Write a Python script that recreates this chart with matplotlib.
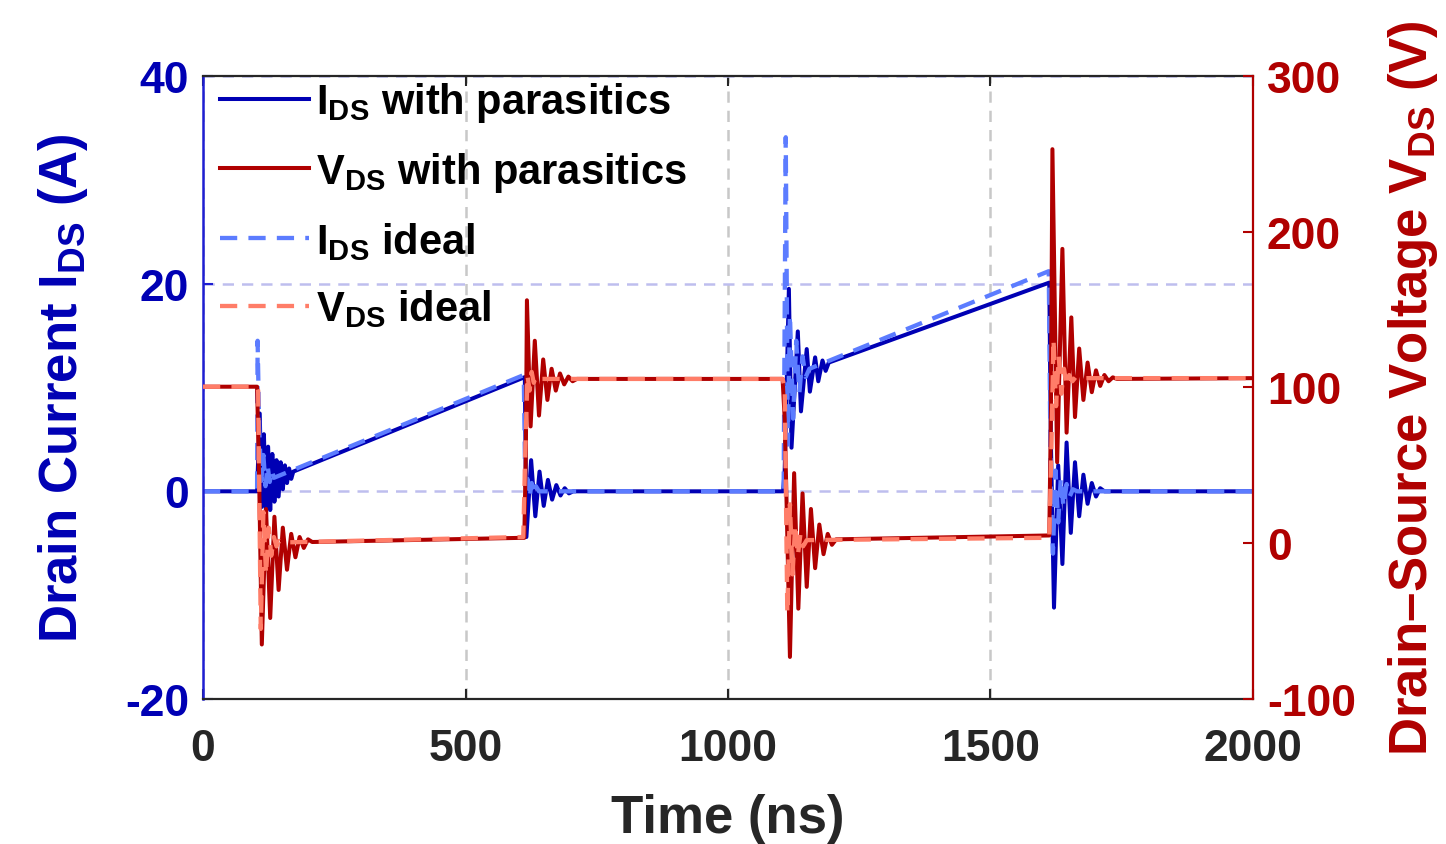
"""
Drain current and drain-source voltage of a switching transistor,
with and without parasitics (double-pulse style waveform).
Output: out.png
"""
import matplotlib

matplotlib.use("Agg")
import matplotlib.pyplot as plt

plt.rcParams["font.family"] = ["Liberation Sans", "DejaVu Sans"]
plt.rcParams["font.weight"] = "bold"
plt.rcParams["axes.labelweight"] = "bold"
plt.rcParams["axes.unicode_minus"] = False
plt.rcParams["mathtext.fontset"] = "custom"
plt.rcParams["mathtext.rm"] = "Liberation Sans:bold"
plt.rcParams["mathtext.it"] = "Liberation Sans:bold"
plt.rcParams["mathtext.bf"] = "Liberation Sans:bold"

# ---- data (time in ns) ----
t_i_par = [0, 103, 108, 112, 116, 120, 124, 128, 132, 136, 140, 144, 148, 152, 156,
           160, 164, 168, 172, 613, 616, 625, 633, 641, 649, 657, 665, 673, 681,
           689, 697, 705, 1105, 1108, 1116, 1121, 1133, 1139, 1150, 1156, 1166,
           1172, 1180, 1186, 1192, 1612, 1615, 1621, 1629, 1637, 1645, 1653, 1661,
           1669, 1677, 1685, 1693, 1701, 1709, 1717, 2000]
i_par = [0, 0, 7.5, -1.5, 5.5, -2.2, 4.3, -1.8, 3.6, -1.0, 3.0, -0.5, 2.8, 0.2, 2.5,
         0.8, 2.2, 1.2, 1.9, 11.0, -4.4, 3.0, -2.4, 1.9, -1.4, 1.1, -0.8, 0.6, -0.4,
         0.3, -0.2, 0, 0, 2.0, 19.5, 4.2, 15.4, 7.7, 13.7, 9.6, 12.9,
         10.6, 12.6, 11.6, 12.4, 20.1, 5.0, -11.2, 2.5, -7.0, 4.7, -4.0, 2.8,
         -2.4, 1.6, -1.2, 0.8, -0.5, 0.3, 0, 0]

t_v_par = [0, 103, 107, 112, 120, 128, 136, 144, 152, 160, 168, 176, 184, 192, 200,
           208, 612, 615, 617, 624, 632, 640, 648, 656, 664, 672, 680, 688, 696,
           704, 712, 1104, 1108, 1112, 1118, 1126, 1134, 1142, 1150, 1158, 1166,
           1174, 1182, 1190, 1198, 1206, 1612, 1615, 1618, 1627, 1637, 1645, 1654,
           1661, 1669, 1677, 1685, 1693, 1701, 1709, 1717, 1725, 1733, 1741, 2000]
v_par = [100.5, 100.5, 40, -65, 22, -48, 17, -30, 10, -17, 6, -9, 4, -3, 2.5,
         0.8, 3.5, 60, 156, 75, 130, 82, 118, 92, 112, 98, 109, 102, 107,
         104, 105.5, 105.5, 80, 20, -73, 45, -42, 32, -28, 22, -16,
         12, -7, 6, -1, 2.5, 5.0, 80, 253, 52, 189, 71, 145,
         81, 125, 92, 116, 97, 111, 101, 108, 104, 106.5, 105.5, 106]

t_i_ideal = [0, 103, 104, 107, 111, 115, 119, 123, 127, 131, 135, 611, 614, 618, 622,
             626, 630, 634, 640, 1106, 1110, 1114, 1118, 1124, 1130, 1136, 1142,
             1148, 1155, 1611, 1615, 1619, 1624, 1629, 1634, 1639, 1645, 1651, 1657,
             1665, 2000]
i_ideal = [0, 0, 14.5, 6.0, 1.0, 3.5, 0.5, 2.5, 0.9, 2.0, 1.3, 11.2, 0, 1.2, -0.6,
           0.8, -0.3, 0.5, 0, 0, 34.1, 4.5, 17.0, 7.0, 14.5, 9.5, 13.0,
           11.0, 11.8, 21.2, 0, -6.0, 2.0, -3.0, 1.3, -1.5, 0.7, -0.5, 0.2,
           0, 0]

t_v_ideal = [0, 103, 105, 110, 115, 120, 125, 130, 135, 140, 145, 150, 610, 614, 618,
             622, 626, 630, 634, 640, 1104, 1108, 1113, 1118, 1123, 1128, 1133, 1138,
             1143, 1150, 1612, 1616, 1620, 1625, 1630, 1635, 1640, 1645, 1650, 1656,
             1662, 1670, 2000]
v_ideal = [100.5, 100.5, 98, -55, 20, -20, 10, -8, 4, -2, 1.5, 0.5, 4.0, 60, 108,
           98, 110, 103, 107, 105.5, 105.5, 100, -45, 25, -20, 12, -8, 6,
           -2, 2, 3.5, 60, 131, 88, 120, 96, 112, 101, 108, 104,
           106.5, 106, 106]

x_ticks = [0, 500, 1000, 1500, 2000]
i_ticks = [-20, 0, 20, 40]
v_ticks = [-100, 0, 100, 200, 300]

BLUE = "#0000B4"
SPINE_BLUE = "#1E1ED2"
RED = "#B00000"
LBLUE = "#5C7CFF"
SALMON = "#FF7D68"
DARK = "#262626"

fig = plt.figure(figsize=(14.46, 8.45), dpi=100)
ax = fig.add_axes([0.1404, 0.1716, 0.7261, 0.7373])
ax2 = ax.twinx()

dash = (4.0, 2.6)
l1, = ax.plot(t_i_par, i_par, color=BLUE, lw=2.9, label=r"I$_{\mathrm{DS}}$ with parasitics")
l3, = ax.plot(t_i_ideal, i_ideal, color=LBLUE, lw=3.1, dashes=dash, label=r"I$_{\mathrm{DS}}$ ideal")
l2, = ax2.plot(t_v_par, v_par, color=RED, lw=2.9, label=r"V$_{\mathrm{DS}}$ with parasitics")
l4, = ax2.plot(t_v_ideal, v_ideal, color=SALMON, lw=3.1, dashes=dash, label=r"V$_{\mathrm{DS}}$ ideal")

ax.set_xlim(0, 2000)
ax.set_ylim(-20, 40)
ax2.set_ylim(-100, 300)
ax.set_xticks(x_ticks)
ax.set_yticks(i_ticks)
ax2.set_yticks(v_ticks)

# grid: grey verticals from x axis, pale blue horizontals from left axis
ax.grid(axis="x", color="#c8c8c8", linestyle=(0, (4.5, 3.2)), lw=1.8)
ax.grid(axis="y", color="#bebeee", linestyle=(0, (4.5, 3.2)), lw=1.8)
ax.set_axisbelow(True)

for s in ("top", "bottom"):
    ax.spines[s].set_color(DARK)
    ax.spines[s].set_linewidth(1.6)
ax.spines["left"].set_color(SPINE_BLUE)
ax.spines["left"].set_linewidth(1.8)
ax.spines["right"].set_visible(False)
ax2.spines["left"].set_visible(False)
ax2.spines["top"].set_visible(False)
ax2.spines["bottom"].set_visible(False)
ax2.spines["right"].set_color(RED)
ax2.spines["right"].set_linewidth(1.6)

ax.tick_params(axis="x", direction="in", length=7, width=1.5, colors=DARK,
               labelsize=32, pad=21, top=True)
ax.tick_params(axis="y", direction="in", length=7, width=1.5, color=SPINE_BLUE,
               labelcolor=BLUE, labelsize=32, pad=10)
ax2.tick_params(axis="y", direction="in", length=7, width=1.5, colors=RED,
                labelsize=32, pad=10)

ax.set_xlabel("Time (ns)", fontsize=38, color=DARK, labelpad=17)
ax.set_ylabel(r"Drain Current I$_{\mathrm{DS}}$ (A)", fontsize=38, color=BLUE, labelpad=25)
ax2.set_ylabel("Drain\u2013Source Voltage V$_{\\mathrm{DS}}$ (V)", fontsize=38,
               color=RED, labelpad=22)

leg = ax2.legend(handles=[l1, l2, l3, l4], loc="upper left",
                 bbox_to_anchor=(0.012, 1.0), frameon=False, fontsize=30,
                 handlelength=2.15, handletextpad=0.15, labelspacing=0.62,
                 borderaxespad=0, borderpad=0.1)

fig.savefig("out.png", dpi=100)
